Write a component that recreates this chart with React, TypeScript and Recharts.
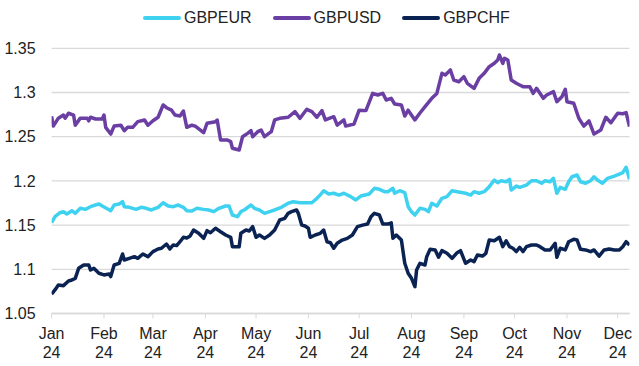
import { LineChart, Line, XAxis, YAxis, CartesianGrid } from 'recharts';

// day offsets from 1 Jan 2024
const usdDays = [0, 1, 4, 7, 8, 10, 13, 14, 17, 21, 22, 23, 26, 30, 31, 32, 35, 37, 41, 43, 45, 48, 51, 55, 57, 60, 63, 66, 68, 71, 73, 76, 78, 80, 83, 85, 90, 92, 97, 98, 100, 104, 106, 107, 111, 113, 116, 118, 119, 122, 124, 126, 130, 132, 135, 140, 144, 147, 151, 154, 157, 160, 162, 167, 169, 173, 174, 179, 182, 186, 190, 193, 196, 198, 201, 203, 207, 209, 211, 215, 218, 221, 225, 228, 229, 231, 233, 236, 238, 241, 244, 246, 250, 253, 256, 259, 262, 264, 265, 267, 268, 270, 272, 275, 277, 279, 283, 285, 287, 291, 293, 297, 299, 302, 304, 305, 309, 312, 315, 318, 321, 325, 328, 331, 335, 338, 340, 342];
const usdVals = [1.273, 1.262, 1.271, 1.2745, 1.271, 1.2765, 1.2745, 1.263, 1.271, 1.271, 1.268, 1.272, 1.27, 1.27, 1.2745, 1.2606, 1.253, 1.262, 1.263, 1.2568, 1.2606, 1.2606, 1.267, 1.2689, 1.263, 1.268, 1.272, 1.2859, 1.2828, 1.28, 1.2745, 1.2734, 1.279, 1.2606, 1.263, 1.262, 1.2545, 1.2652, 1.267, 1.2689, 1.2463, 1.2463, 1.2444, 1.237, 1.235, 1.25, 1.2538, 1.2568, 1.25, 1.2557, 1.2576, 1.25, 1.2557, 1.269, 1.2708, 1.272, 1.2783, 1.2708, 1.281, 1.2783, 1.272, 1.2795, 1.269, 1.2726, 1.263, 1.269, 1.262, 1.2644, 1.28, 1.2795, 1.2991, 1.2972, 1.2991, 1.2915, 1.2934, 1.287, 1.2859, 1.2734, 1.28, 1.269, 1.2768, 1.284, 1.2934, 1.299, 1.3066, 1.3217, 1.3198, 1.3255, 1.3141, 1.3122, 1.3179, 1.3104, 1.3047, 1.316, 1.3217, 1.3292, 1.333, 1.3368, 1.3424, 1.333, 1.3387, 1.3368, 1.3141, 1.3104, 1.3085, 1.3066, 1.3066, 1.299, 1.3047, 1.2934, 1.2972, 1.301, 1.2896, 1.2953, 1.3036, 1.2896, 1.2878, 1.2708, 1.262, 1.2678, 1.253, 1.2576, 1.272, 1.2658, 1.2765, 1.276, 1.2772, 1.2613];

const eurDays = [0, 2, 5, 7, 9, 12, 14, 17, 20, 23, 26, 28, 30, 35, 37, 40, 42, 43, 46, 50, 53, 56, 59, 63, 66, 69, 72, 75, 78, 80, 83, 86, 90, 93, 96, 99, 103, 105, 107, 110, 112, 114, 118, 120, 123, 126, 129, 132, 136, 140, 143, 147, 151, 154, 157, 159, 161, 164, 167, 170, 173, 177, 180, 183, 188, 191, 194, 197, 199, 202, 203, 206, 209, 211, 213, 215, 218, 221, 223, 225, 228, 231, 234, 237, 240, 245, 248, 250, 253, 256, 259, 262, 264, 266, 269, 271, 272, 275, 277, 281, 284, 287, 290, 292, 295, 297, 299, 301, 304, 306, 308, 311, 313, 316, 319, 321, 323, 326, 329, 333, 336, 338, 340, 342];
const eurVals = [1.1527, 1.1595, 1.164, 1.1652, 1.1626, 1.1663, 1.1633, 1.169, 1.1678, 1.1708, 1.1727, 1.1739, 1.1716, 1.1663, 1.1727, 1.1739, 1.1765, 1.1708, 1.1701, 1.1678, 1.1701, 1.169, 1.1671, 1.1701, 1.1753, 1.1716, 1.1708, 1.1727, 1.1701, 1.1663, 1.166, 1.169, 1.1678, 1.1671, 1.1652, 1.169, 1.1716, 1.1716, 1.1614, 1.1595, 1.1652, 1.1671, 1.1727, 1.169, 1.1671, 1.1633, 1.1652, 1.1671, 1.1701, 1.1747, 1.1765, 1.1753, 1.1753, 1.1753, 1.1803, 1.184, 1.1889, 1.1852, 1.186, 1.184, 1.186, 1.1822, 1.1784, 1.1829, 1.1852, 1.1916, 1.1905, 1.1878, 1.1878, 1.1916, 1.186, 1.1889, 1.1867, 1.1708, 1.1652, 1.1614, 1.169, 1.1678, 1.1652, 1.1747, 1.1716, 1.1803, 1.1822, 1.1889, 1.1878, 1.186, 1.184, 1.1878, 1.186, 1.1878, 1.1935, 1.201, 1.198, 1.2002, 1.199, 1.2018, 1.1897, 1.1942, 1.1927, 1.1953, 1.2002, 1.2002, 1.1973, 1.2002, 1.199, 1.2029, 1.186, 1.1927, 1.1905, 1.199, 1.2047, 1.2067, 1.199, 1.1973, 1.2002, 1.2047, 1.201, 1.1973, 1.2029, 1.2055, 1.2078, 1.2093, 1.2154, 1.2018];

const chfDays = [0, 2, 4, 7, 10, 12, 14, 16, 19, 22, 23, 25, 28, 31, 34, 35, 37, 40, 42, 43, 46, 49, 51, 54, 57, 60, 63, 65, 68, 70, 72, 74, 76, 78, 80, 82, 84, 87, 90, 92, 94, 97, 100, 103, 106, 107, 111, 112, 115, 117, 119, 121, 123, 126, 129, 132, 135, 138, 140, 142, 145, 146, 148, 150, 152, 153, 156, 159, 161, 163, 165, 167, 169, 172, 175, 178, 181, 184, 187, 189, 191, 194, 196, 199, 201, 202, 204, 207, 209, 211, 213, 215, 216, 218, 221, 222, 224, 227, 229, 231, 234, 237, 240, 242, 245, 248, 250, 252, 255, 257, 259, 262, 265, 267, 269, 271, 273, 275, 277, 279, 281, 284, 287, 289, 292, 295, 298, 299, 301, 304, 306, 309, 311, 313, 316, 319, 321, 324, 327, 330, 333, 336, 338, 340, 342];
const chfVals = [1.072, 1.0766, 1.0822, 1.0815, 1.0868, 1.0879, 1.0898, 1.1011, 1.1049, 1.1049, 1.0992, 1.1011, 1.0955, 1.0936, 1.0947, 1.0917, 1.1049, 1.1068, 1.1173, 1.1105, 1.1124, 1.1143, 1.1124, 1.1173, 1.1143, 1.12, 1.123, 1.1238, 1.1286, 1.123, 1.1275, 1.1268, 1.1312, 1.1362, 1.1354, 1.1377, 1.1444, 1.1407, 1.135, 1.1437, 1.1414, 1.1464, 1.1425, 1.1388, 1.1362, 1.1256, 1.1256, 1.1407, 1.1444, 1.1433, 1.1482, 1.1362, 1.1388, 1.135, 1.1388, 1.1444, 1.1558, 1.1577, 1.1633, 1.1652, 1.1671, 1.1633, 1.15, 1.149, 1.1464, 1.1362, 1.1388, 1.1407, 1.1444, 1.1312, 1.13, 1.1238, 1.1294, 1.1331, 1.135, 1.1388, 1.1482, 1.15, 1.1512, 1.1595, 1.1633, 1.1614, 1.1512, 1.1512, 1.1525, 1.135, 1.1388, 1.1331, 1.1068, 1.0955, 1.0898, 1.0803, 1.0992, 1.1068, 1.1049, 1.1143, 1.1226, 1.1219, 1.1136, 1.1211, 1.1181, 1.1124, 1.1188, 1.1211, 1.1068, 1.1105, 1.1087, 1.1162, 1.115, 1.1181, 1.1331, 1.1323, 1.1362, 1.1256, 1.1323, 1.1256, 1.1238, 1.12, 1.1249, 1.12, 1.1256, 1.1275, 1.1275, 1.1256, 1.1219, 1.1219, 1.1294, 1.1136, 1.1238, 1.1219, 1.1312, 1.1339, 1.1331, 1.1226, 1.1219, 1.12, 1.1219, 1.115, 1.1219, 1.123, 1.1219, 1.1219, 1.1256, 1.1312, 1.1275];

const monthStarts = [0, 31, 60, 91, 121, 152, 182, 213, 244, 274, 305, 335];
const monthLabels = ['Jan', 'Feb', 'Mar', 'Apr', 'May', 'Jun', 'Jul', 'Aug', 'Sep', 'Oct', 'Nov', 'Dec'];
const yTicks = [1.05, 1.1, 1.15, 1.2, 1.25, 1.3, 1.35];

const series = [
  { key: 'GBPEUR', color: '#3fd2f0', days: eurDays, vals: eurVals },
  { key: 'GBPUSD', color: '#6a3ea3', days: usdDays, vals: usdVals },
  { key: 'GBPCHF', color: '#0b2352', days: chfDays, vals: chfVals },
];

type Row = { day: number; [k: string]: number };

const buildRows = () => {
  const map = new Map<number, Row>();
  series.forEach((s) => {
    s.days.forEach((d, i) => {
      const row = map.get(d) || { day: d };
      row[s.key] = s.vals[i];
      map.set(d, row);
    });
  });
  return Array.from(map.values()).sort((a, b) => a.day - b.day);
};

const data = buildRows();
const FONT = '"Liberation Sans", Arial, sans-serif';

const MonthTick = ({ x, y, payload }: any) => {
  const idx = monthStarts.indexOf(payload.value);
  return (
    <text x={x} y={y} textAnchor="middle" fill="#222" fontSize={16} fontFamily={FONT}>
      <tspan x={x} dy={18}>{monthLabels[idx]}</tspan>
      <tspan x={x} dy={19}>24</tspan>
    </text>
  );
};

// legend kept outside recharts so it doesn't push the plot down
const LegendBox = () => (
  <div
    style={{
      position: 'absolute',
      top: 8,
      left: 143,
      display: 'flex',
      alignItems: 'center',
      fontFamily: FONT,
      fontSize: 16,
      color: '#222',
      lineHeight: '20px',
    }}
  >
    {series.map((s) => (
      <div key={s.key} style={{ display: 'flex', alignItems: 'center', marginRight: 21 }}>
        <span style={{ width: 38, height: 4, background: s.color, borderRadius: 2, marginRight: 3 }} />
        <span>{s.key}</span>
      </div>
    ))}
  </div>
);

export default function App() {
  return (
    <div style={{ position: 'absolute', left: 0, top: 0, width: 639, height: 366, background: '#fff' }}>
      <LineChart width={639} height={366} data={data} margin={{ top: 48.3, right: 9.5, left: 5.6, bottom: 7.5 }}>
        <CartesianGrid horizontal vertical={false} stroke="#d9d9d9" strokeWidth={1.3} />
        <XAxis
          dataKey="day"
          type="number"
          domain={[0, 342]}
          ticks={monthStarts}
          tick={<MonthTick />}
          tickLine={{ stroke: '#d9d9d9' }}
          axisLine={{ stroke: '#d9d9d9', strokeWidth: 1.3 }}
          tickSize={5}
          tickMargin={2}
          height={45}
          interval={0}
          allowDataOverflow
        />
        <YAxis
          type="number"
          domain={[1.05, 1.35]}
          ticks={yTicks}
          tickFormatter={(v: number) => String(Number(v.toFixed(2)))}
          tick={{ fill: '#222', fontSize: 16, fontFamily: FONT }}
          tickLine={false}
          axisLine={false}
          tickSize={6}
          tickMargin={10}
          width={46}
          interval={0}
        />
        {series.map((s) => (
          <Line
            key={s.key}
            dataKey={s.key}
            type="linear"
            stroke={s.color}
            strokeWidth={3.5}
            strokeLinejoin="round"
            dot={false}
            connectNulls
            isAnimationActive={false}
          />
        ))}
      </LineChart>
      <LegendBox />
    </div>
  );
}
